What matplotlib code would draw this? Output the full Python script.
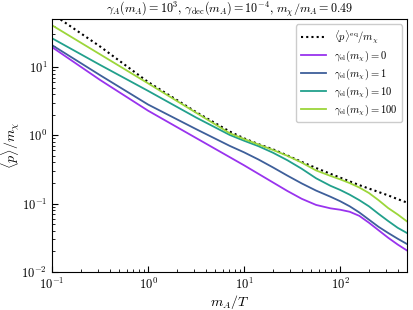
import numpy as np
import matplotlib
matplotlib.use("Agg")
import matplotlib.pyplot as plt

plt.rcParams['font.family'] = 'serif'
plt.rcParams['font.serif'] = ['cmr10']
plt.rcParams['mathtext.fontset'] = 'cm'
plt.rcParams['axes.formatter.use_mathtext'] = True

# x = m_A / T, given as log10 values
log_x = np.array([-1, -0.5, 0, 0.5, 0.85, 1.0, 1.15, 1.3, 1.45, 1.6, 1.75, 1.9,
                  2.0, 2.1, 2.2, 2.3, 2.4, 2.5, 2.6, 2.7])

# log10 of <p>/m_chi
log_eq = np.array([1.78, 1.30, 0.78, 0.34, 0.055, -0.045, -0.13, -0.205, -0.295, -0.39,
                   -0.48, -0.565, -0.62, -0.675, -0.73, -0.78, -0.83, -0.88, -0.935, -0.987])
log_el0 = np.array([1.29, 0.81, 0.36, -0.04, -0.32, -0.44, -0.565, -0.69, -0.815, -0.93,
                    -1.02, -1.07, -1.09, -1.12, -1.18, -1.28, -1.39, -1.50, -1.60, -1.69])
log_el1 = np.array([1.32, 0.88, 0.45, 0.09, -0.155, -0.25, -0.355, -0.47, -0.59, -0.705,
                    -0.81, -0.90, -0.965, -1.04, -1.13, -1.235, -1.34, -1.43, -1.515, -1.595])
log_el10 = np.array([1.42, 1.03, 0.65, 0.26, 0.005, -0.08, -0.16, -0.255, -0.365, -0.49,
                     -0.63, -0.74, -0.80, -0.87, -0.95, -1.04, -1.15, -1.255, -1.355, -1.434])
log_el100 = np.array([1.61, 1.185, 0.76, 0.33, 0.03, -0.055, -0.135, -0.215, -0.30, -0.40,
                      -0.515, -0.595, -0.645, -0.70, -0.765, -0.845, -0.95, -1.065, -1.16, -1.265])

gamma_el = ["0", "1", "10", "100"]
series = [log_el0, log_el1, log_el10, log_el100]
colors = ['#9933ee', '#3e5f9a', '#22a08c', '#9cd63a']

x = 10**log_x

fig = plt.figure(figsize=(4.13, 3.10), dpi=100)
ax = fig.add_axes([0.126, 0.123, 0.860, 0.815])

ax.plot(x, 10**log_eq, color='black', ls=(0, (1, 1.5)), lw=1.5,
        label=r'$\langle p\rangle^{\rm eq}/m_\chi$')
for g, s, c in zip(gamma_el, series, colors):
    ax.plot(x, 10**s, color=c, lw=1.3, label=r'$\gamma_{\rm el}(m_\chi) = %s$' % g)

ax.set_xscale('log')
ax.set_yscale('log')
ax.set_xlim(0.1, 500)
ax.set_ylim(0.01, 50)
ax.tick_params(which='both', direction='in', labelsize=9)
ax.tick_params(which='major', length=4)
ax.tick_params(which='minor', length=2)
ax.set_xlabel(r'$m_A/T$', fontsize=10, labelpad=1)
ax.set_ylabel(r'$\langle p\rangle/m_\chi$', fontsize=10)
ax.yaxis.set_label_coords(-0.085, 0.5)
ax.set_title(r'$\gamma_A(m_A) = 10^3$, $\gamma_{\rm dec}(m_A) = 10^{-4}$, $m_\chi/m_A = 0.49$',
             fontsize=8.7, pad=1.5)
ax.legend(loc='upper right', fontsize=7.6, handlelength=2.4, labelspacing=0.25, framealpha=1)

fig.savefig('out.png', dpi=100)
